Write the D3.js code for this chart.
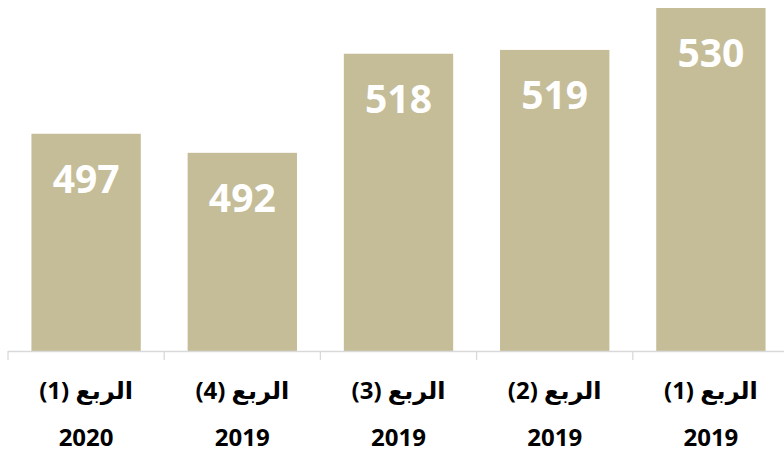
<!DOCTYPE html>
<html><head><meta charset="utf-8">
<script src="https://cdn.jsdelivr.net/npm/d3@7"></script>
<style>html,body{margin:0;padding:0;background:#fff;}svg{display:block;}</style>
</head><body>
<svg id="c" width="784" height="454"></svg>
<script>
const quarters = ["الربع (1)", "الربع (2)", "الربع (3)", "الربع (4)", "الربع (1)"];
const years = ["2019", "2019", "2019", "2019", "2020"];
const values = [530, 519, 518, 492, 497];

const W = 784, H = 454;
const svg = d3.select("#c");
const ids = values.map((d, i) => i);

const x = d3.scaleBand().domain(ids).range([789, 8]).paddingInner(0.3).paddingOuter(0.15);
const y = d3.scaleLinear().domain([440, 530]).range([351, 8]);

const fill = "#C5BD98";
svg.selectAll("rect.bar").data(ids).join("rect")
  .attr("class", "bar")
  .attr("x", i => x(i))
  .attr("width", x.bandwidth())
  .attr("y", i => y(values[i]))
  .attr("height", i => y.range()[0] - y(values[i]))
  .attr("fill", fill);

// axis line & tick marks at band boundaries
const step = x.step();
const axis = svg.append("g").attr("stroke", "#D9D9D9").attr("stroke-width", 1.3);
axis.append("line").attr("x1", 8).attr("x2", W).attr("y1", 351.5).attr("y2", 351.5);
ids.forEach(i => {
  const b = x(i) - (step - x.bandwidth()) / 2;
  axis.append("line").attr("x1", b).attr("x2", b).attr("y1", 351).attr("y2", 360);
});

const font = "'Open Sans', 'DejaVu Sans', sans-serif";
// value labels
svg.selectAll("text.val").data(ids).join("text")
  .attr("class", "val")
  .attr("x", i => x(i) + x.bandwidth() / 2)
  .attr("y", i => y(values[i]) + 59)
  .attr("text-anchor", "middle")
  .attr("font-family", font)
  .attr("font-weight", "bold")
  .attr("font-size", 39)
  .attr("fill", "#fff")
  .text(i => values[i]);

// category labels
svg.selectAll("text.q").data(ids).join("text")
  .attr("class", "q")
  .attr("x", i => x(i) + x.bandwidth() / 2)
  .attr("y", 399)
  .attr("text-anchor", "middle")
  .attr("direction", "rtl")
  .attr("font-family", font)
  .attr("font-weight", "bold")
  .attr("font-size", 24)
  .attr("fill", "#000")
  .text(i => quarters[i]);

svg.selectAll("text.yr").data(ids).join("text")
  .attr("class", "yr")
  .attr("x", i => x(i) + x.bandwidth() / 2)
  .attr("y", 446)
  .attr("text-anchor", "middle")
  .attr("font-family", font)
  .attr("font-weight", "bold")
  .attr("font-size", 24)
  .attr("fill", "#000")
  .text(i => years[i]);
</script>
</body></html>
